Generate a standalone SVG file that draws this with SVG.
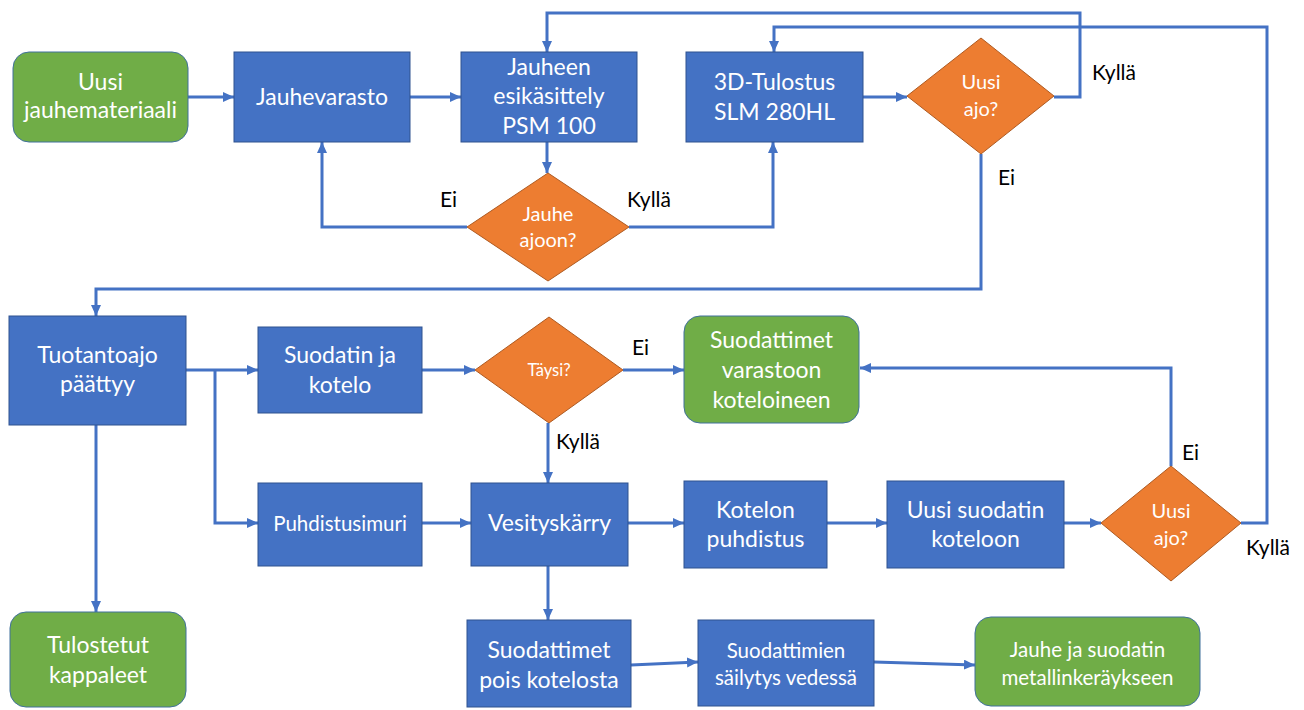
<svg xmlns="http://www.w3.org/2000/svg" width="1304" height="710" viewBox="0 0 1304 710">
<style>
.b{fill:#4472C4;stroke:#2F528F;stroke-width:1}
.g{fill:#70AD47;stroke:#41719C;stroke-width:1}
.o{fill:#ED7D31;stroke:#AE5A21;stroke-width:1}
.t{fill:#fff;font-family:Lato,"Liberation Sans",sans-serif;font-size:23px;text-anchor:middle}
.s{font-size:20.5px}
.d{font-size:20px}
.l{fill:#000;font-family:Lato,"Liberation Sans",sans-serif;font-size:21px}
.c{fill:none;stroke:#4472C4;stroke-width:3;marker-end:url(#a)}
</style>
<defs>
<marker id="a" markerUnits="userSpaceOnUse" markerWidth="12" markerHeight="11" refX="11" refY="5" orient="auto">
<path d="M0,0 L11,5 L0,10 z" fill="#4472C4"/>
</marker>
</defs>
<g id="connectors">
<path class="c" d="M188,97 H234"/>
<path class="c" d="M410,97 H461"/>
<path class="c" d="M547,142 V173"/>
<path class="c" d="M467,227 H322 V142"/>
<path class="c" d="M629,227 H773 V142"/>
<path class="c" d="M863,97 H907"/>
<path class="c" d="M1054,97 H1080 V13 H547 V52"/>
<path class="c" d="M981,154 V289 H96 V316"/>
<path class="c" d="M1241,523 H1267 V27 H774 V52"/>
<path class="c" d="M186,370 H258"/>
<path class="c" d="M215,370 V523 H258"/>
<path class="c" d="M422,370 H475"/>
<path class="c" d="M623,370 H684"/>
<path class="c" d="M548,423 V483"/>
<path class="c" d="M422,523 H471"/>
<path class="c" d="M628,523 H684"/>
<path class="c" d="M827,523 H887"/>
<path class="c" d="M1064,523 H1101"/>
<path class="c" d="M1171,466 V368 H860"/>
<path class="c" d="M548,566 V620"/>
<path class="c" d="M96,425 V612"/>
<path class="c" d="M631,665 L698,662"/>
<path class="c" d="M874,662 L975,665"/>
</g>
<g id="labels">
<text class="l" x="440" y="207">Ei</text>
<text class="l" x="627" y="207">Kyllä</text>
<text class="l" x="1092" y="80">Kyllä</text>
<text class="l" x="998" y="185">Ei</text>
<text class="l" x="632" y="355">Ei</text>
<text class="l" x="556" y="449">Kyllä</text>
<text class="l" x="1182" y="460">Ei</text>
<text class="l" x="1246" y="555">Kyllä</text>
</g>
<g id="n-uusi"><rect class="g" x="13" y="52" width="175" height="90" rx="16"/><text class="t" x="100.5" y="90">Uusi</text><text class="t" x="100.5" y="118">jauhemateriaali</text></g>
<g id="n-jauhevarasto"><rect class="b" x="234" y="52" width="176" height="90"/><text class="t" x="322" y="105">Jauhevarasto</text></g>
<g id="n-esikasittely"><rect class="b" x="461" y="52" width="176" height="90"/><text class="t" x="549" y="75">Jauheen</text><text class="t" x="549" y="104">esikäsittely</text><text class="t" x="549" y="134">PSM 100</text></g>
<g id="n-tulostus"><rect class="b" x="686" y="52" width="177" height="90"/><text class="t" x="774.5" y="90">3D-Tulostus</text><text class="t" x="774.5" y="120">SLM 280HL</text></g>
<g id="n-uusiajo1"><polygon class="o" points="981,38 1054,96 981,154 907,96"/><text class="t d" x="981" y="89">Uusi</text><text class="t d" x="981" y="116">ajo?</text></g>
<g id="n-jauheajoon"><polygon class="o" points="548,173 629,227 548,281 467,227"/><text class="t d" x="548" y="221">Jauhe</text><text class="t d" x="548" y="247">ajoon?</text></g>
<g id="n-tuotantoajo"><rect class="b" x="9" y="316" width="177" height="109"/><text class="t" x="97.5" y="363">Tuotantoajo</text><text class="t" x="97.5" y="392">päättyy</text></g>
<g id="n-suodatin"><rect class="b" x="258" y="327" width="164" height="86"/><text class="t" x="340" y="363">Suodatin ja</text><text class="t" x="340" y="393">kotelo</text></g>
<g id="n-taysi"><polygon class="o" points="549,317 623,370 549,423 475,370"/><text class="t" x="549" y="376" style="font-size:16.5px">Täysi?</text></g>
<g id="n-varastoon"><rect class="g" x="684" y="316" width="175" height="107" rx="16"/><text class="t" x="771.5" y="348">Suodattimet</text><text class="t" x="771.5" y="378">varastoon</text><text class="t" x="771.5" y="408">koteloineen</text></g>
<g id="n-puhdistusimuri"><rect class="b" x="258" y="483" width="164" height="83"/><text class="t s" x="340" y="531">Puhdistusimuri</text></g>
<g id="n-vesityskarry"><rect class="b" x="471" y="483" width="157" height="83"/><text class="t" x="549.5" y="531">Vesityskärry</text></g>
<g id="n-kotelon"><rect class="b" x="684" y="481" width="143" height="87"/><text class="t" x="755.5" y="518">Kotelon</text><text class="t" x="755.5" y="547">puhdistus</text></g>
<g id="n-uusisuodatin"><rect class="b" x="887" y="481" width="177" height="87"/><text class="t" x="975.5" y="518">Uusi suodatin</text><text class="t" x="975.5" y="547">koteloon</text></g>
<g id="n-uusiajo2"><polygon class="o" points="1171,466 1241,523 1171,581 1101,523"/><text class="t d" x="1171" y="518">Uusi</text><text class="t d" x="1171" y="545">ajo?</text></g>
<g id="n-tulostetut"><rect class="g" x="10" y="612" width="176" height="95" rx="16"/><text class="t" x="98" y="653">Tulostetut</text><text class="t" x="98" y="683">kappaleet</text></g>
<g id="n-pois"><rect class="b" x="467" y="620" width="164" height="87"/><text class="t" x="549" y="658">Suodattimet</text><text class="t" x="549" y="688">pois kotelosta</text></g>
<g id="n-sailytys"><rect class="b" x="698" y="620" width="176" height="86"/><text class="t s" x="786" y="658">Suodattimien</text><text class="t s" x="786" y="685">säilytys vedessä</text></g>
<g id="n-metalli"><rect class="g" x="975" y="617" width="225" height="89" rx="16"/><text class="t s" x="1087.5" y="657">Jauhe ja suodatin</text><text class="t s" x="1087.5" y="685">metallinkeräykseen</text></g>
</svg>
